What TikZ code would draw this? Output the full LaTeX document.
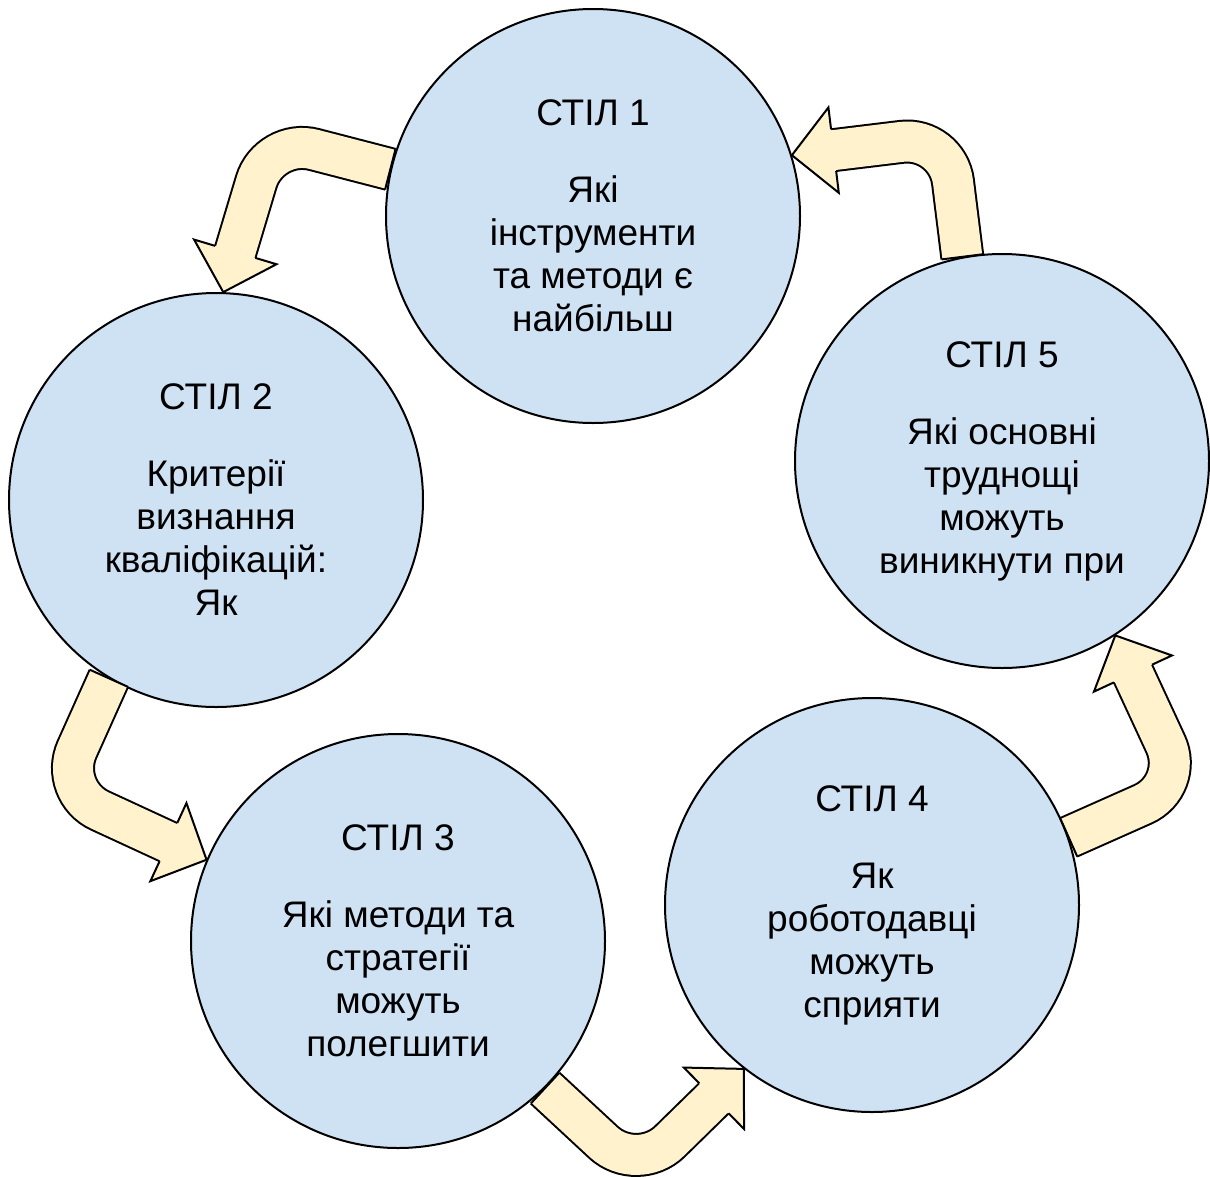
\documentclass[tikz,border=0pt]{standalone}
\usepackage{fontspec}
\setmainfont{Liberation Sans}
\usepackage{tikz}
\usetikzlibrary{calc}
\definecolor{stilblue}{RGB}{207,226,243}
\definecolor{arrowyellow}{RGB}{255,242,204}
\tikzset{
    stil/.style={circle,draw=black,line width=2pt,fill=stilblue,minimum size=414pt,inner sep=0pt,align=center,font=\fontsize{37pt}{43pt}\selectfont},
    shaft/.style={draw=black,line width=2pt,double=arrowyellow,double distance=40pt,rounded corners=46pt}
}

\begin{document}
\begin{tikzpicture}[x=1pt,y=-1pt]
\useasboundingbox (0,0) rectangle (1210,1176);
\foreach \x/\y/\n/\txt in {593/216/1/{Які\\інструменти\\та методи є\\найбільш}, 216/500/2/{Критерії\\визнання\\кваліфікацій:\\Як}, 398/941/3/{Які методи та\\стратегії\\можуть\\полегшити}, 872/905/4/{Як\\роботодавці\\можуть\\сприяти}, 1002/461/5/{Які основні\\труднощі\\можуть\\виникнути при}}{
    \node[stil] (s\n) at (\x,\y) {СТІЛ \n\\[34pt]\txt};
}
\foreach \a/\src/\cx/\cy/\dst in {a/s1.167/269.4/137.9/s2.88, b/s5.101/947.3/136.3/s1.17, c/s2.239/58.2/791.2/s3.157, d/s3.315/637.1/1173.5/s4.232, e/s4.19/1184.9/785.6/s5.303}{
    \coordinate (\a s) at (\src);
    \coordinate (\a c) at (\cx,\cy);
    \coordinate (\a t) at (\dst);
    \coordinate (\a b) at ($(\a t)!42pt!(\a c)$);
    \coordinate (\a e) at ($(\a t)!38pt!(\a c)$);
    \draw[shaft] (\a s) -- (\a c) -- (\a e);
    \fill[arrowyellow] ($(\a b)!22pt!90:(\a t)$) -- ($(\a b)!43pt!90:(\a t)$) -- (\a t) -- ($(\a b)!43pt!-90:(\a t)$) -- ($(\a b)!22pt!-90:(\a t)$) -- cycle;
    \draw[line width=2pt] ($(\a b)!21pt!90:(\a t)$) -- ($(\a b)!43pt!90:(\a t)$) -- (\a t) -- ($(\a b)!43pt!-90:(\a t)$) -- ($(\a b)!21pt!-90:(\a t)$);
    \draw[line width=2pt] ($(\a s)!21pt!90:(\a c)$) -- ($(\a s)!21pt!-90:(\a c)$);
}
\end{tikzpicture}
\end{document}
